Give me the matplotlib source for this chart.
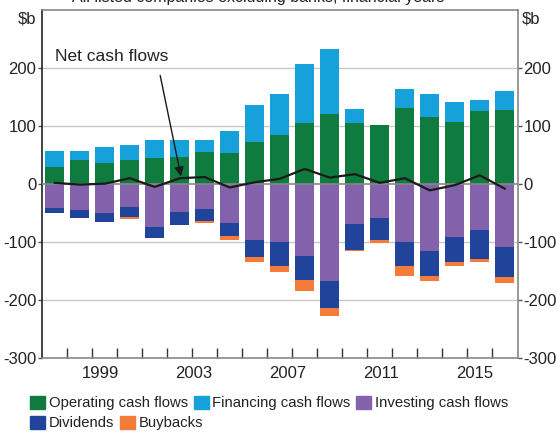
import numpy as np
import matplotlib
matplotlib.use('Agg')
import matplotlib.pyplot as plt
from matplotlib.patches import Patch
from matplotlib.ticker import FixedLocator

plt.rcParams['font.family'] = ['Liberation Sans', 'DejaVu Sans']

# Data ($b), financial years
years = list(range(1997, 2016))
operating = [30, 42, 37, 41, 45, 47, 56, 53, 72, 85, 106, 121, 106, 101, 131, 115, 107, 126, 128]
financing = [27, 15, 27, 26, 31, 29, 20, 38, 65, 71, 101, 112, 24, -1, 33, 40, 34, 19, 33]
investing = [-41, -44, -50, -40, -74, -48, -43, -67, -96, -100, -124, -168, -69, -58, -100, -116, -92, -79, -109]
dividends = [-9, -14, -15, -17, -19, -22, -21, -22, -29, -41, -42, -46, -44, -38, -41, -42, -42, -50, -52]
buybacks = [0, 0, 0, -2.5, 0, 0, -2.5, -8, -10, -11, -18, -13, -3, -5, -17, -10, -8, -6, -10]
net_flows = [2, -1, 0.5, 10, -5, 10, 12, -6, 3, 9, 26, 11, 17, 2, 10, -11, -2, 15, -8]
tick_years = ['1999', '2003', '2007', '2011', '2015']
# label positions as they sit in the original (slightly left of the bars)
tick_pos = [1.81, 5.56, 9.31, 13.06, 16.81]

c_op = '#0f7b3f'
c_fin = '#16a1db'
c_inv = '#8362ab'
c_div = '#1f4499'
c_buy = '#f47b3a'

x = np.arange(len(years))
w = 0.77
fin = np.array(financing, dtype=float)
fin_pos = np.where(fin > 0, fin, 0)
fin_neg = np.where(fin < 0, fin, 0)

fig = plt.figure(figsize=(5.56, 4.32), dpi=100)
ax = fig.add_axes([42/556, 74/432, 476/556, 348/432])

# gridlines
for v in [-200, -100, 100, 200]:
    ax.axhline(v, color='#c8c8c8', lw=1, zorder=0)

# positive stack
ax.bar(x, operating, w, color=c_op, zorder=2)
ax.bar(x, fin_pos, w, bottom=operating, color=c_fin, zorder=2)
# negative stack
inv = np.array(investing, dtype=float)
ax.bar(x, inv, w, color=c_inv, zorder=2)
ax.bar(x, fin_neg, w, bottom=inv, color=c_fin, zorder=2)
b2 = inv + fin_neg
ax.bar(x, dividends, w, bottom=b2, color=c_div, zorder=2)
b3 = b2 + np.array(dividends)
ax.bar(x, buybacks, w, bottom=b3, color=c_buy, zorder=2)

ax.axhline(0, color='#888888', lw=1.2, zorder=3)
ax.plot(x, net_flows, color='#1a1a1a', lw=1.6, zorder=4)

ax.annotate('Net cash flows', xy=(x[5] + 0.05, net_flows[5] + 3), xytext=(0.0, 219),
            fontsize=12.5, color='#222222', ha='left', va='center',
            arrowprops=dict(arrowstyle='-|>', color='#1a1a1a', lw=1,
                            mutation_scale=14, shrinkA=6, shrinkB=0,
                            relpos=(0.91, 0)))

ax.set_xlim(-0.51, 18.53)
ax.set_ylim(-300, 300)

# y axes
yt = [-300, -200, -100, 0, 100, 200]
ax.set_yticks(yt)
ax.set_yticklabels([str(v) for v in yt])
ax.tick_params(axis='y', direction='out', length=3, width=1, color='#555555', pad=1,
               labelsize=12, labelcolor='#222222',
               left=True, right=True, labelleft=True, labelright=True)
ax.text(-0.012, 0.975, '$b', transform=ax.transAxes, ha='right', va='center',
        fontsize=12, color='#222222')
ax.text(1.008, 0.975, '$b', transform=ax.transAxes, ha='left', va='center',
        fontsize=12, color='#222222')

# x axis
ax.set_xticks(tick_pos)
ax.set_xticklabels(tick_years)
ax.xaxis.set_minor_locator(FixedLocator(x[:-1] + 0.5))
ax.tick_params(axis='x', which='major', length=0, pad=6, labelsize=12, labelcolor='#222222')
ax.tick_params(axis='x', which='minor', direction='in', length=7, width=1, color='#333333')

for s in ['top', 'right', 'bottom']:
    ax.spines[s].set_color('#888888')
ax.spines['left'].set_color('#222222')
for s in ax.spines.values():
    s.set_linewidth(1.2)

fig.text(258/556, 0.995, 'All listed companies excluding banks, financial years',
         ha='center', va='baseline', fontsize=11.5, color='#222222')

h1 = [Patch(color=c_op, label='Operating cash flows'),
      Patch(color=c_fin, label='Financing cash flows'),
      Patch(color=c_inv, label='Investing cash flows')]
h2 = [Patch(color=c_div, label='Dividends'),
      Patch(color=c_buy, label='Buybacks')]
common = dict(frameon=False, fontsize=10.7, handlelength=1.0, handleheight=1.0,
              handletextpad=0.25, columnspacing=0.4, borderpad=0, borderaxespad=0,
              labelcolor='#222222')
fig.legend(handles=h1, ncol=3, loc='center left', bbox_to_anchor=(30/556, 1 - 403/432), **common)
fig.legend(handles=h2, ncol=2, loc='center left', bbox_to_anchor=(30/556, 1 - 423/432), **common)

fig.savefig('out.png', dpi=100)
